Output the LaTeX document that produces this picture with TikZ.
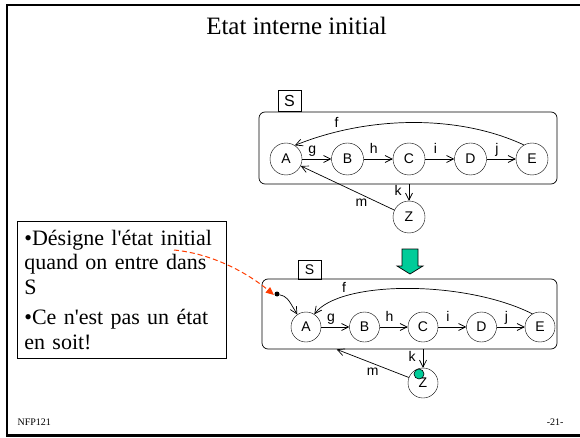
\documentclass[tikz,border=0pt]{standalone}
\usepackage{fontspec}
\setmainfont{Liberation Serif}
\setsansfont{Liberation Sans}
\usepackage{xcolor}
\usetikzlibrary{arrows.meta}
\definecolor{nfpgreen}{RGB}{0,204,153}
\definecolor{nfpred}{RGB}{255,60,0}

\begin{document}
\begin{tikzpicture}[x=1pt, y=-1pt,
    etat/.style={draw, circle, inner sep=0pt, font=\sffamily\fontsize{14}{14}\selectfont},
    trans/.style={line width=0.7pt, -{Straight Barb[length=7pt,width=7pt]}},
    lbl/.style={font=\sffamily\fontsize{14}{14}\selectfont, inner sep=1pt, text height=9.5pt, text depth=3pt},
    compo/.style={draw, line width=0.7pt, rounded corners=6pt, inner sep=0pt},
    onglet/.style={draw, line width=0.7pt, inner sep=0pt, minimum width=23pt}]
\useasboundingbox (0,0) rectangle (580,438);

% Slide frame and texts
\draw[line width=2.5pt] (582,5) -- (7,5) -- (7,435.5) -- (582,435.5);
\node[anchor=base, font=\fontsize{25}{25}\selectfont] (title) at (296.5,35) {Etat interne initial};
\node[anchor=base west, font=\fontsize{10}{10}\selectfont] (course) at (14,425) {NFP121};
\node[anchor=base east, font=\fontsize{10}{10}\selectfont] (page) at (567,425) {-21-};

% Main components (before)
\node[compo, minimum width=298pt, minimum height=72pt] (s1) at (408,148) {};
\node[onglet, minimum height=21pt, font=\sffamily\fontsize{16}{16}\selectfont] (s1tab) at (289.5,101) {S};
\begin{scope}[node distance=61.5pt, etat/.append style={minimum size=32pt}]
    \node[etat] (a1) at (286,159) {A};
    \node[etat, right of=a1] (b1) {B};
    \node[etat, right of=b1] (c1) {C};
    \node[etat, right of=c1] (d1) {D};
    \node[etat, right of=d1] (e1) {E};
    \node[etat, below of=c1, node distance=58pt] (z1) {Z};
\end{scope}

% Connections (before)
\draw[trans] (a1) -- node[lbl, above=1pt, pos=0.35] {g} (b1);
\draw[trans] (b1) -- node[lbl, above=1pt, pos=0.35] {h} (c1);
\draw[trans] (c1) -- node[lbl, above=1pt, pos=0.35] {i} (d1);
\draw[trans] (d1) -- node[lbl, above=1pt, pos=0.35] {j} (e1);
\draw[trans] (e1.120) .. controls (460,115) and (370,115) .. node[lbl, above, pos=0.82] {f} (a1.57);
\draw[trans] (s1.south -| z1) -- node[lbl, left=6pt] {k} (z1);
\draw[trans] (z1) -- node[lbl, below=1pt, pos=0.35] {m} (a1);

% Change of state
\draw[line width=0.7pt, fill=nfpgreen] (402,249) -- (418,249) -- (418,266) -- (423,266) -- (410,274)
    -- (397,266) -- (402,266) -- cycle;

% Main components (after)
\node[compo, minimum width=295pt, minimum height=70pt] (s2) at (409.5,314) {};
\node[onglet, minimum height=18.5pt, font=\sffamily\fontsize{14}{14}\selectfont] (s2tab) at (309.5,270) {S};
\begin{scope}[node distance=58.5pt, etat/.append style={minimum size=30pt}]
    \node[etat] (a2) at (306,327) {A};
    \node[etat, right of=a2] (b2) {B};
    \node[etat, right of=b2] (c2) {C};
    \node[etat, right of=c2] (d2) {D};
    \node[etat, right of=d2] (e2) {E};
    \node[etat, below of=c2, node distance=56pt] (z2) {Z};
\end{scope}
\node[fill, circle, inner sep=0pt, minimum size=5pt] (init) at (277,294) {};

% Connections (after)
\draw[trans] (init) .. controls (287,297) .. (a2.125);
\draw[trans] (a2) -- node[lbl, above=1pt, pos=0.35] {g} (b2);
\draw[trans] (b2) -- node[lbl, above=1pt, pos=0.35] {h} (c2);
\draw[trans] (c2) -- node[lbl, above=1pt, pos=0.35] {i} (d2);
\draw[trans] (d2) -- node[lbl, above=1pt, pos=0.35] {j} (e2);
\draw[trans] (e2.120) .. controls (465,280) and (340,280) .. node[lbl, above, pos=0.78] {f} (a2.57);
\draw[trans] (s2.south -| z2) -- node[lbl, left=6pt] {k} (z2);
\draw[trans] (z2) -- node[lbl, below=1pt, pos=0.5] {m} ([xshift=75pt]s2.south west);
\draw[line width=0.6pt, fill=nfpgreen] (419,374) circle (5pt);

% Comment box
\node[draw, line width=0.7pt, anchor=north west, minimum width=209pt, minimum height=137pt, text width=195pt,
    inner xsep=7pt, align=left, font=\fontsize{22}{24.5}\selectfont] (note) at (17,221)
    {•Désigne l\textquotesingle état initial\\quand on entre dans\\S\\[6pt]•Ce n\textquotesingle est pas un état\\en soit!};
\coordinate (hint) at (174,250);
\draw[nfpred, line width=1pt, dash pattern=on 5pt off 3pt, -{Triangle[length=8pt,width=7pt]}, shorten >=1.5pt]
    (hint) .. controls (215,254) and (250,275) .. (init.south west);
\end{tikzpicture}
\end{document}
